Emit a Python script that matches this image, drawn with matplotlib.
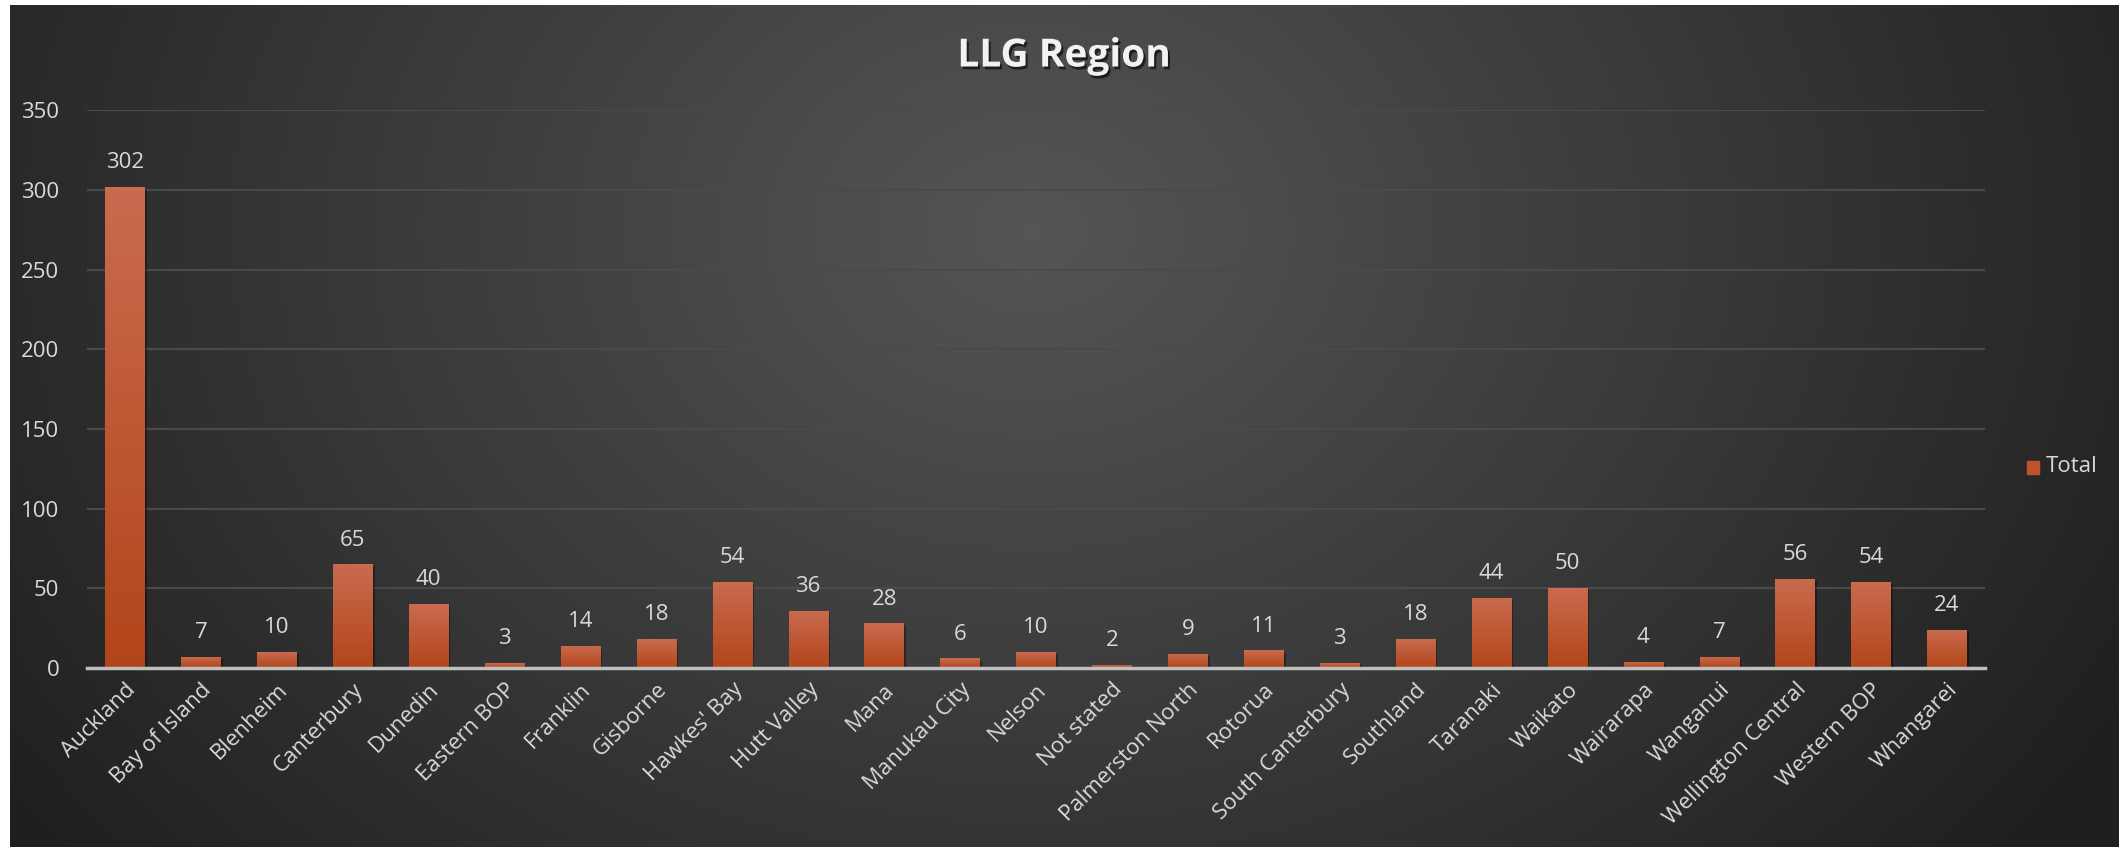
import numpy as np
import matplotlib
matplotlib.use('Agg')
import matplotlib.pyplot as plt
import matplotlib.patheffects as pe

regions = ['Auckland', 'Bay of Island', 'Blenheim', 'Canterbury', 'Dunedin',
           'Eastern BOP', 'Franklin', 'Gisborne', "Hawkes' Bay", 'Hutt Valley',
           'Mana', 'Manukau City', 'Nelson', 'Not stated', 'Palmerston North',
           'Rotorua', 'South Canterbury', 'Southland', 'Taranaki', 'Waikato',
           'Wairarapa', 'Wanganui', 'Wellington Central', 'Western BOP', 'Whangarei']
totals = [302, 7, 10, 65, 40, 3, 14, 18, 54, 36, 28, 6, 10, 2, 9, 11, 3, 18,
          44, 50, 4, 7, 56, 54, 24]
yticks = [0, 50, 100, 150, 200, 250, 300, 350]

plt.rcParams['font.family'] = ['Open Sans', 'DejaVu Sans']
txt = '#d9d9d9'

W, H = 2119, 847
fig = plt.figure(figsize=(W / 100, H / 100), dpi=100)
fig.patch.set_facecolor('white')

# dark radial background (chart area starts a few px in from the left/top)
bg = fig.add_axes([10 / W, 0, 1 - 10 / W, 1 - 5 / H])
bg.set_axis_off()
px, py = np.meshgrid(np.linspace(10, W, 424), np.linspace(5, H, 170))
r = np.sqrt(((px - 1030) / 950) ** 2 + ((py - 230) / 750) ** 2)
shade = np.clip(0.335 - 0.16 * r, 0.125, 0.34)
bg.imshow(np.dstack([shade, shade, shade]), aspect='auto',
          extent=[0, 1, 0, 1], interpolation='bilinear')

ax = fig.add_axes([87 / W, 1 - 668 / H, (1985 - 87) / W, (668 - 110.5) / H])
ax.patch.set_alpha(0)
x = np.arange(len(regions))
bars = ax.bar(x, totals, width=0.52, color='#c0522a', zorder=3,
              path_effects=[pe.withSimplePatchShadow(offset=(1.5, -1.5), shadow_rgbFace='black', alpha=0.35)])

# vertical gradient on every bar, light on top
grad = np.linspace(0, 1, 100).reshape(-1, 1)
top = np.array([0.79, 0.42, 0.31])
bot = np.array([0.70, 0.27, 0.10])
cols = bot + (top - bot) * grad[:, :, None] * np.ones((1, 1, 3))
for b in bars:
    im = ax.imshow(cols, origin='lower', aspect='auto', zorder=4,
                   extent=[b.get_x(), b.get_x() + b.get_width(), 0, b.get_height()])
    im.set_clip_path(b)

for b, v in zip(bars, totals):
    ax.annotate(str(v), (b.get_x() + b.get_width() / 2, v), xytext=(0, 10),
                textcoords='offset points', ha='center', va='bottom',
                color=txt, fontsize=16)

ax.set_xlim(-0.5, len(regions) - 0.5)
ax.set_ylim(0, 350)
ax.set_yticks(yticks)
ax.yaxis.grid(True, color='#4a4a4a', linewidth=1.5, zorder=0)
ax.set_axisbelow(True)
for s in ['top', 'right', 'left']:
    ax.spines[s].set_visible(False)
ax.spines['bottom'].set_color('#bfbfbf')
ax.spines['bottom'].set_linewidth(2.5)
ax.spines['bottom'].set_zorder(5)
ax.tick_params(axis='both', length=0, colors=txt, labelsize=16)
ax.tick_params(axis='y', pad=20)
ax.tick_params(axis='x', pad=8)
ax.set_xticks(x)
ax.set_xticklabels(regions, rotation=45, ha='right', rotation_mode='anchor')

fig.text(1064 / W, 1 - 56 / H, 'LLG Region', ha='center', va='center',
         fontsize=28, fontweight='bold', color='#f2f2f2',
         path_effects=[pe.withSimplePatchShadow(offset=(1.5, -2), shadow_rgbFace='black', alpha=0.6)])

# legend
fig.patches.append(plt.Rectangle((2027 / W, 1 - 474 / H), 12 / W, 13 / H,
                                 transform=fig.transFigure, color='#c0522a'))
fig.text(2046 / W, 1 - 466 / H, 'Total', ha='left', va='center', color=txt, fontsize=16)

fig.savefig('out.png', dpi=100)
